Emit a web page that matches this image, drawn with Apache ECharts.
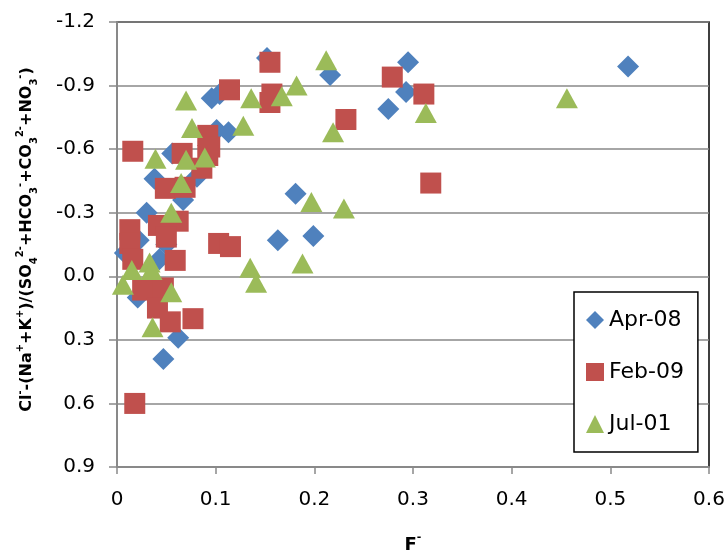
<!DOCTYPE html>
<html>
<head>
<meta charset="utf-8">
<script src="https://cdn.jsdelivr.net/npm/echarts@6/dist/echarts.min.js"></script>
<style>html,body{margin:0;padding:0;background:#fff}#c{width:728px;height:552px}</style>
</head>
<body>
<div id="c"></div>
<script>
// Data: [F-, ratio]
const apr08 = [[0.518,-0.99],[0.295,-1.01],[0.293,-0.87],[0.275,-0.79],[0.216,-0.95],[0.152,-1.03],[0.181,-0.39],[0.163,-0.17],[0.199,-0.19],[0.096,-0.84],[0.104,-0.86],[0.101,-0.69],[0.113,-0.68],[0.038,-0.46],[0.056,-0.58],[0.067,-0.36],[0.030,-0.30],[0.081,-0.47],[0.022,-0.17],[0.050,-0.15],[0.008,-0.11],[0.043,-0.08],[0.021,0.10],[0.062,0.29],[0.047,0.39]];
const feb09 = [[0.016,-0.59],[0.155,-1.01],[0.114,-0.88],[0.157,-0.86],[0.155,-0.82],[0.279,-0.94],[0.311,-0.86],[0.232,-0.74],[0.318,-0.44],[0.092,-0.665],[0.094,-0.61],[0.086,-0.51],[0.066,-0.58],[0.092,-0.57],[0.049,-0.415],[0.069,-0.42],[0.062,-0.26],[0.042,-0.24],[0.050,-0.185],[0.013,-0.22],[0.013,-0.155],[0.016,-0.08],[0.059,-0.075],[0.103,-0.155],[0.115,-0.14],[0.026,0.065],[0.047,0.055],[0.041,0.15],[0.054,0.215],[0.077,0.20],[0.018,0.60]];
const jul01 = [[0.456,-0.84],[0.212,-1.02],[0.313,-0.77],[0.219,-0.68],[0.197,-0.35],[0.230,-0.32],[0.182,-0.90],[0.167,-0.85],[0.136,-0.84],[0.070,-0.83],[0.128,-0.71],[0.076,-0.70],[0.039,-0.555],[0.070,-0.55],[0.089,-0.56],[0.065,-0.44],[0.055,-0.30],[0.135,-0.04],[0.141,0.03],[0.188,-0.06],[0.015,-0.03],[0.033,-0.065],[0.035,-0.03],[0.006,0.04],[0.055,0.075],[0.036,0.24]];
const seriesNames = ['Apr-08','Feb-09','Jul-01'];
const xTicks = {min:0, max:0.6, step:0.1};
const yTicks = {min:-1.2, max:0.9, step:0.3};

const FONT = 'DejaVu Sans';
const chart = echarts.init(document.getElementById('c'), null, {renderer:'canvas'});
const rn = {fontFamily:FONT, fontWeight:'bold', fontSize:16, color:'#000', lineHeight:24};
const rsup = {fontFamily:FONT, fontWeight:'bold', fontSize:10, color:'#000', verticalAlign:'top'};
const rsub = {fontFamily:FONT, fontWeight:'bold', fontSize:10, color:'#000', verticalAlign:'bottom'};
const xn = {fontFamily:FONT, fontWeight:'bold', fontSize:18, color:'#000', lineHeight:26};
const xsup = {fontFamily:FONT, fontWeight:'bold', fontSize:11, color:'#000', verticalAlign:'top'};
const yName = '{n|Cl}{p|-}{n|-(Na}{p|+}{n|+K}{p|+}{n|)/(SO}{b|4}{p|2-}{n|+HCO}{b|3}{p|-}{n|+CO}{b|3}{p|2-}{n|+NO}{b|3}{p|-}{n|)}';
const xName = '{n|F}{p|-}';
const gridCol = '#898989';

chart.setOption({
  animation:false,
  backgroundColor:'#fff',
  grid:{left:117, right:19, top:22, bottom:85, outerBoundsMode:'none', containLabel:false, show:true, borderColor:'#000', borderWidth:1.5, backgroundColor:'transparent'},
  xAxis:{
    type:'value', min:xTicks.min, max:xTicks.max, interval:xTicks.step,
    axisLine:{show:true, onZero:false, lineStyle:{color:gridCol, width:2}},
    axisTick:{show:true, inside:false, length:7, lineStyle:{color:gridCol, width:1.5}},
    splitLine:{show:false},
    axisLabel:{margin:23, fontFamily:FONT, fontSize:20, color:'#000', formatter:v=>Number(v.toFixed(1)).toString()},
    name:xName, nameLocation:'middle', nameGap:65,
    nameTextStyle:{rich:{n:xn, p:xsup}}
  },
  yAxis:{
    type:'value', inverse:true, min:yTicks.min, max:yTicks.max, interval:yTicks.step,
    axisLine:{show:true, onZero:false, lineStyle:{color:gridCol, width:2}},
    axisTick:{show:true, inside:false, length:8, lineStyle:{color:gridCol, width:1.5}},
    splitLine:{show:true, lineStyle:{color:gridCol, width:1.5}},
    axisLabel:{margin:22, fontFamily:FONT, fontSize:20, color:'#000', formatter:v=>v.toFixed(1)},
    name:yName, nameLocation:'middle', nameGap:78, nameRotate:90,
    nameTextStyle:{padding:[0,0,0,10], rich:{n:rn, p:rsup, b:rsub}}
  },
  legend:{
    orient:'vertical', left:574, top:292,
    padding:[14,14,14,12], itemGap:24, itemWidth:18, itemHeight:18,
    backgroundColor:'#fff', borderColor:'#000', borderWidth:1.5, borderRadius:0,
    textStyle:{fontFamily:FONT, fontSize:22, color:'#000', lineHeight:28},
    data:seriesNames
  },
  series:[
    {name:seriesNames[0], type:'scatter', data:apr08, symbol:'diamond', symbolSize:[22,22], itemStyle:{color:'#4F81BD', opacity:1}},
    {name:seriesNames[1], type:'scatter', data:feb09, symbol:'rect', symbolSize:[21,21], itemStyle:{color:'#C0504D', opacity:1}},
    {name:seriesNames[2], type:'scatter', data:jul01, symbol:'triangle', symbolSize:[22,20], itemStyle:{color:'#9BBB59', opacity:1}}
  ]
});
</script>
</body>
</html>
